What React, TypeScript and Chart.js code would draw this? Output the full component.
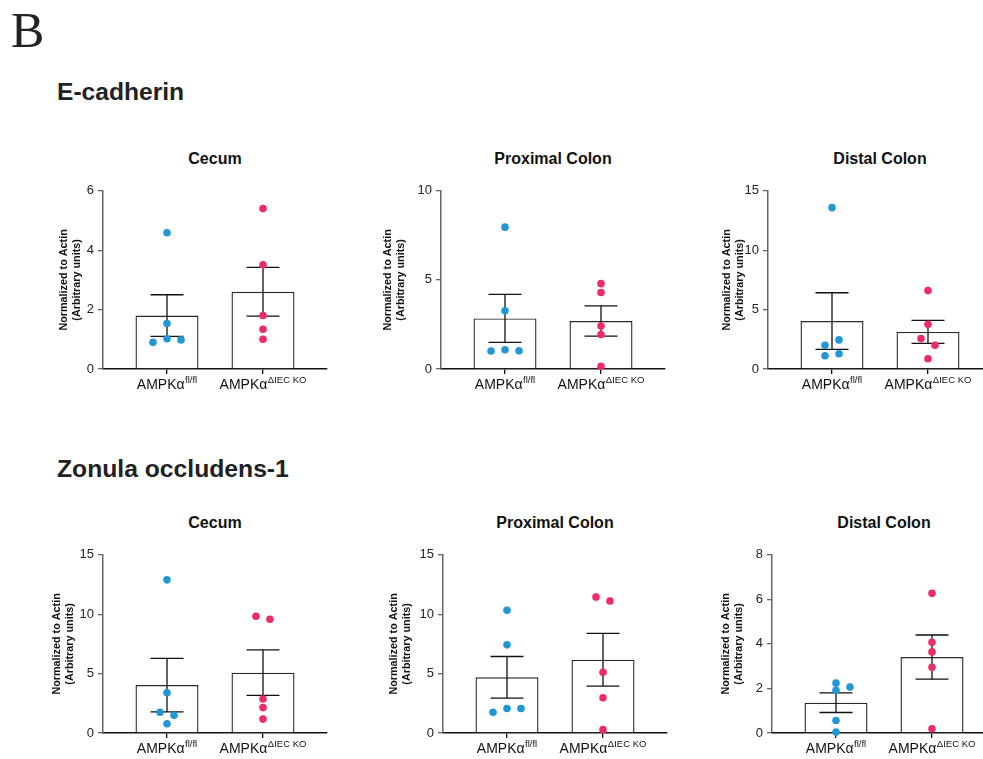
import React, { useEffect, useRef } from "react";
import { Chart, registerables } from "chart.js";

Chart.register(...registerables);

const FONT = "'Liberation Sans', Arial, Helvetica, sans-serif";
Chart.defaults.font.family = FONT;

// ---------- text ----------
const FIGURE_LETTER = "B";
const SECTIONS = ["E-cadherin", "Zonula occludens-1"];
const PANELS = ["Cecum", "Proximal Colon", "Distal Colon"];
const GROUP_MAIN = ["AMPKα", "AMPKα"];
const GROUP_SUP = ["fl/fl", "ΔIEC KO"];
const Y_TITLE = ["Normalized to Actin", "(Arbitrary units)"];

// ---------- data (E-cadherin) ----------
const ecadCecumFl = [4.59, 1.53, 1.02, 0.98, 0.9];
const ecadCecumKO = [5.4, 3.51, 1.8, 1.34, 1.0];
const ecadCecumMean = [1.8, 2.6];
const ecadCecumSem = [0.7, 0.82];

const ecadProxFl = [7.96, 3.27, 1.08, 1.02, 1.01];
const ecadProxKO = [4.79, 4.29, 2.41, 1.93, 0.15];
const ecadProxMean = [2.84, 2.69];
const ecadProxSem = [1.35, 0.85];

const ecadDistFl = [13.58, 2.0, 2.45, 1.11, 1.28];
const ecadDistKO = [6.6, 3.76, 2.56, 2.0, 0.86];
const ecadDistMean = [4.04, 3.12];
const ecadDistSem = [2.38, 0.97];

// ---------- data (Zonula occludens-1) ----------
const zoCecumFl = [12.89, 3.39, 1.75, 1.5, 0.78];
const zoCecumKO = [9.83, 9.58, 2.86, 2.14, 1.17];
const zoCecumMean = [4.03, 5.08];
const zoCecumSem = [2.25, 1.91];

const zoProxFl = [10.33, 7.42, 2.06, 2.06, 1.75];
const zoProxKO = [11.44, 11.11, 5.11, 2.97, 0.28];
const zoProxMean = [4.69, 6.17];
const zoProxSem = [1.75, 2.22];

const zoDistFl = [2.24, 2.06, 1.92, 0.56, 0.04];
const zoDistKO = [6.27, 4.07, 3.64, 2.95, 0.19];
const zoDistMean = [1.36, 3.41];
const zoDistSem = [0.44, 0.99];

// ---------- axis ranges ----------
const Y_MAX = [6, 10, 15, 15, 15, 8];
const Y_STEP = [2, 5, 5, 5, 5, 2];

// ---------- style / layout ----------
const COLORS = ["#2197d4", "#ee2b69"];
const PLOT_W = 224;
const PLOT_H = 180;
const CAT_PX = 96;
const SIDE_PX = 64;
const Y_BOX = 70;
const PAD_TOP = 10;
const PAD_RIGHT = 10;
const X_BOX = 40;
const DOT_R = 3.8;
const DOT_GAP = 6.9;
const STEP_PX = 14;
const Y_TITLE_SIZE = 10.8;

const LAYOUT = [
  { axisX: 103, plotTop: 189, titleGap: 32.5 },
  { axisX: 441, plotTop: 189, titleGap: 46.5 },
  { axisX: 768, plotTop: 189, titleGap: 34 },
  { axisX: 103, plotTop: 553, titleGap: 39 },
  { axisX: 443, plotTop: 553, titleGap: 42 },
  { axisX: 772, plotTop: 553, titleGap: 39 },
];

const CHARTS = [
  { fl: ecadCecumFl, ko: ecadCecumKO, mean: ecadCecumMean, sem: ecadCecumSem },
  { fl: ecadProxFl, ko: ecadProxKO, mean: ecadProxMean, sem: ecadProxSem },
  { fl: ecadDistFl, ko: ecadDistKO, mean: ecadDistMean, sem: ecadDistSem },
  { fl: zoCecumFl, ko: zoCecumKO, mean: zoCecumMean, sem: zoCecumSem },
  { fl: zoProxFl, ko: zoProxKO, mean: zoProxMean, sem: zoProxSem },
  { fl: zoDistFl, ko: zoDistKO, mean: zoDistMean, sem: zoDistSem },
];

// beeswarm-like horizontal spreading of overlapping dots (in "step" units)
function swarm(values: number[], yMax: number): number[] {
  const pxY = PLOT_H / yMax;
  const n = values.length;
  const order = values.map((_, i) => i).sort((a, b) => values[b] - values[a]);
  const clusters: number[][] = [];
  let prev = -1;
  for (const i of order) {
    if (prev >= 0 && (values[prev] - values[i]) * pxY < DOT_GAP) {
      clusters[clusters.length - 1].push(i);
    } else clusters.push([i]);
    prev = i;
  }
  const off = new Array(n).fill(0);
  for (const c of clusters) {
    const members = [...c].sort((a, b) => a - b);
    if (members.length === 2) {
      off[members[0]] = -0.5;
      off[members[1]] = 0.5;
    } else if (members.length > 2) {
      const placed: number[] = [];
      for (const m of members) {
        for (const cand of [0, 1, -1, 2, -2, 3, -3]) {
          const hit = placed.some((p) => {
            const dx = (cand - off[p]) * STEP_PX;
            const dy = (values[m] - values[p]) * pxY;
            return Math.hypot(dx, dy) < DOT_GAP;
          });
          if (!hit) {
            off[m] = cand;
            break;
          }
        }
        placed.push(m);
      }
    }
  }
  return off;
}

function PanelChart({ idx }: { idx: number }) {
  const ref = useRef<HTMLCanvasElement | null>(null);
  const cfg = CHARTS[idx];
  const lay = LAYOUT[idx];
  const yMax = Y_MAX[idx];

  useEffect(() => {
    if (!ref.current) return;
    const groups = [cfg.fl, cfg.ko];
    const scatterSets = groups.map((vals, g) => {
      const off = swarm(vals, yMax);
      return {
        type: "scatter" as const,
        data: vals.map((v, i) => ({ x: g + 1 + (off[i] * STEP_PX) / CAT_PX, y: v })),
        backgroundColor: COLORS[g],
        borderWidth: 0,
        pointRadius: DOT_R,
        pointHoverRadius: DOT_R,
        clip: false as const,
        order: 1,
      };
    });

    const errorBars = {
      id: "errorBars",
      afterDatasetDraw(chart: any, args: any) {
        if (args.index !== 0) return;
        const { ctx, scales } = chart;
        ctx.save();
        ctx.strokeStyle = "#111";
        ctx.lineWidth = 1.3;
        cfg.mean.forEach((m: number, i: number) => {
          const x = scales.x.getPixelForValue(i + 1);
          const yHi = scales.y.getPixelForValue(m + cfg.sem[i]);
          const yLo = scales.y.getPixelForValue(m - cfg.sem[i]);
          ctx.beginPath();
          ctx.moveTo(x, yHi);
          ctx.lineTo(x, yLo);
          ctx.moveTo(x - 16.5, yHi);
          ctx.lineTo(x + 16.5, yHi);
          ctx.moveTo(x - 16.5, yLo);
          ctx.lineTo(x + 16.5, yLo);
          ctx.stroke();
        });
        ctx.restore();
      },
    };

    const xLabels = {
      id: "xLabels",
      afterDraw(chart: any) {
        const { ctx, chartArea, scales } = chart;
        ctx.save();
        ctx.fillStyle = "#111";
        ctx.textBaseline = "alphabetic";
        ctx.textAlign = "left";
        for (let i = 0; i < GROUP_MAIN.length; i++) {
          const cx = scales.x.getPixelForValue(i + 1);
          ctx.font = `14px ${FONT}`;
          const w1 = ctx.measureText(GROUP_MAIN[i]).width;
          ctx.font = `9.5px ${FONT}`;
          const w2 = ctx.measureText(GROUP_SUP[i]).width;
          const sx = cx - (w1 + w2 + 0.5) / 2;
          const by = chartArea.bottom + 20;
          ctx.font = `14px ${FONT}`;
          ctx.fillText(GROUP_MAIN[i], sx, by);
          ctx.font = `9.5px ${FONT}`;
          ctx.fillText(GROUP_SUP[i], sx + w1 + 0.5, by - 6);
        }
        ctx.restore();
      },
    };

    const lh = Y_TITLE_SIZE * 1.2;
    const titlePad = Y_BOX - lay.titleGap - lh;

    const chart = new Chart(ref.current, {
      type: "scatter",
      data: {
        datasets: [
          {
            type: "bar" as const,
            data: cfg.mean.map((m: number, i: number) => ({ x: i + 1, y: m })),
            backgroundColor: "#ffffff",
            borderColor: "#2a2a2a",
            borderWidth: 1.4,
            barPercentage: 63 / CAT_PX,
            categoryPercentage: 1,
            order: 2,
          } as any,
          ...scatterSets,
        ],
      },
      options: {
        responsive: false,
        animation: false,
        events: [],
        layout: { padding: { top: PAD_TOP, right: PAD_RIGHT, bottom: 0, left: 0 } },
        plugins: { legend: { display: false }, tooltip: { enabled: false }, title: { display: false } },
        scales: {
          x: {
            type: "linear",
            min: 1 - SIDE_PX / CAT_PX,
            max: 2 + SIDE_PX / CAT_PX,
            offset: false,
            afterBuildTicks: (s: any) => {
              s.ticks = [{ value: 1 }, { value: 2 }];
            },
            afterFit: (s: any) => {
              s.height = X_BOX;
            },
            ticks: { callback: () => "", autoSkip: false },
            grid: { drawOnChartArea: false, offset: false, tickLength: 5, color: "#111", lineWidth: 1.3 },
            border: { display: true, color: "#111", width: 1.5 },
          },
          y: {
            min: 0,
            max: yMax,
            afterFit: (s: any) => {
              s.width = Y_BOX;
            },
            ticks: { stepSize: Y_STEP[idx], color: "#222", padding: 4, font: { size: 13 } },
            grid: { drawOnChartArea: false, tickLength: 5, color: "#666", lineWidth: 1.3 },
            border: { display: true, color: "#666", width: 1.5 },
            title: {
              display: true,
              text: Y_TITLE,
              color: "#111",
              font: { size: Y_TITLE_SIZE, weight: "bold", lineHeight: 1.2 },
              padding: { top: titlePad, bottom: 0 },
            },
          },
        },
      } as any,
      plugins: [errorBars, xLabels],
    });
    return () => chart.destroy();
  }, [idx]);

  const w = Y_BOX + PLOT_W + PAD_RIGHT;
  const h = PAD_TOP + PLOT_H + X_BOX;
  const section = Math.floor(idx / 3);
  const panel = idx % 3;
  return (
    <>
      <div
        style={{
          position: "absolute",
          left: lay.axisX,
          width: PLOT_W,
          top: lay.plotTop - 38.5,
          textAlign: "center",
          font: `bold 16px ${FONT}`,
          lineHeight: "16px",
          color: "#111",
          whiteSpace: "nowrap",
        }}
      >
        {PANELS[panel]}
      </div>
      <canvas
        ref={ref}
        width={w}
        height={h}
        style={{
          position: "absolute",
          left: lay.axisX - Y_BOX,
          top: lay.plotTop - PAD_TOP,
          width: w,
          height: h,
        }}
        data-section={SECTIONS[section]}
      />
    </>
  );
}

export default function App() {
  return (
    <div
      style={{
        position: "fixed",
        left: 0,
        top: 0,
        width: 983,
        height: 759,
        overflow: "hidden",
        background: "#ffffff",
      }}
    >
      <div
        style={{
          position: "absolute",
          left: 11,
          top: 5,
          font: `50px 'Liberation Serif', 'Times New Roman', serif`,
          lineHeight: "50px",
          color: "#222",
        }}
      >
        {FIGURE_LETTER}
      </div>
      <div
        style={{
          position: "absolute",
          left: 57,
          top: 79.5,
          font: `bold 24.6px ${FONT}`,
          lineHeight: "24px",
          color: "#222",
        }}
      >
        {SECTIONS[0]}
      </div>
      <div
        style={{
          position: "absolute",
          left: 57,
          top: 457.2,
          font: `bold 24.7px ${FONT}`,
          lineHeight: "24px",
          color: "#222",
          whiteSpace: "nowrap",
        }}
      >
        {SECTIONS[1]}
      </div>
      {CHARTS.map((_, i) => (
        <PanelChart key={i} idx={i} />
      ))}
    </div>
  );
}
